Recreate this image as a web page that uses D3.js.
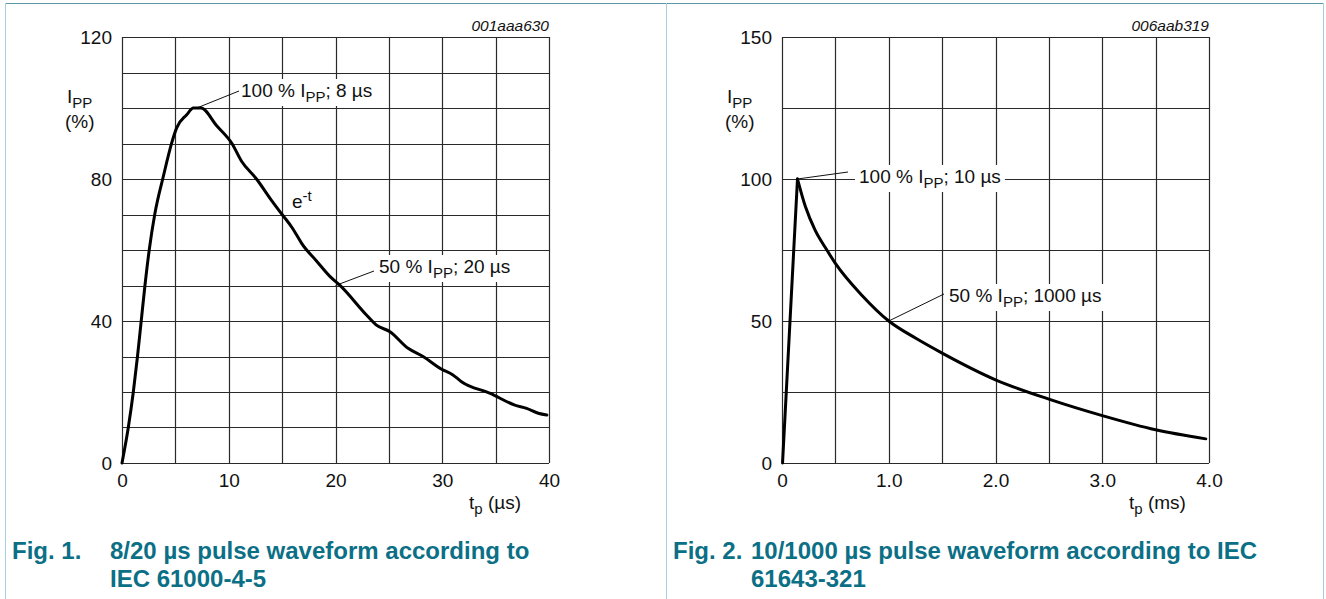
<!DOCTYPE html>
<html>
<head>
<meta charset="utf-8">
<script src="https://cdn.jsdelivr.net/npm/d3@7"></script>
<style>
body{margin:0;background:#fff;}
svg{display:block;font-family:"Liberation Sans",Arial,sans-serif;}
</style>
</head>
<body>
<script>
// 8/20 us waveform (t in us, I in %)
var waveA_t = [0,0.59,1.06,1.45,1.8,2.15,2.55,3.09,3.87,4.65,5.12,6.06,6.68,7.4,8.87,10.3,11.2,12.6,14.0,15.0,16.0,16.5,16.8,18.2,19.5,20.4,22.9,23.8,25.1,26.8,28.2,29.9,31.0,31.8,34.5,36.8,37.9,39.0,39.8];
var waveA_i = [0,10,20,30,40,50,60,70.4,80.7,90.1,94.4,98.1,100,100,95,90,85,80,74,70,66,63.5,62,57,52.5,50.1,41.7,38.9,37,32.3,30,26.5,24.8,22.9,19.6,16.3,15.4,14.0,13.5];
var gridA_x = [0,5,10,15,20,25,30,35,40];
var gridA_y = [0,10,20,30,40,50,60,70,80,90,100,110,120];
var ticksA_x = [0,10,20,30,40];
var ticksA_y = [0,40,80,120];

// 10/1000 us waveform (t in ms, I in %)
var waveB_t = [0.005,0.145,0.22,0.31,0.41,0.5,0.75,1.0,1.25,1.5,2.0,2.5,3.0,3.5,3.97];
var waveB_i = [0,100,90.2,82,75.6,70.3,59,50,44,38.7,29.3,22.5,16.7,11.7,8.5];
var gridB_x = [0,0.5,1,1.5,2,2.5,3,3.5,4];
var gridB_y = [0,25,50,75,100,125,150];
var ticksB_x = [0,1,2,3,4];
var ticksB_y = [0,50,100,150];

var W = 1326, H = 599;
var teal = "#0b6f86";
var fs = 19;

var svg = d3.select("body").append("svg")
  .attr("width", W)
  .attr("height", H);

// page frame
svg.append("line").attr("x1",5).attr("x2",1324).attr("y1",3.5).attr("y2",3.5)
  .attr("stroke","#5c97a6").attr("stroke-width",1);
[5.5,666.5,1323.5].forEach(function(x){
  svg.append("line").attr("x1",x).attr("x2",x).attr("y1",3).attr("y2",H)
    .attr("stroke","#a6cfd9").attr("stroke-width",1);
});

function subText(sel, parts){
  // parts: [text, "sub"|"sup"|"back"|null]
  parts.forEach(function(p){
    var t = sel.append("tspan").text(p[0]);
    if(p[1]=="sub") t.attr("dy",5).style("font-size","15px");
    if(p[1]=="sup") t.attr("dy",-7).style("font-size","15px");
    if(p[1]=="back") t.attr("dy",-5);
  });
}

function drawPanel(cfg){
  var g = svg.append("g");
  var x = d3.scaleLinear().domain(cfg.xDomain).range([cfg.left, cfg.right]);
  var y = d3.scaleLinear().domain(cfg.yDomain).range([463, 37]);

  g.selectAll(".gx").data(cfg.gridX).enter().append("line")
    .attr("x1",function(d){return Math.round(x(d))+0.5;})
    .attr("x2",function(d){return Math.round(x(d))+0.5;})
    .attr("y1",y.range()[0]).attr("y2",y.range()[1])
    .attr("stroke","#2a2a2a").attr("stroke-width",1.2);
  g.selectAll(".gy").data(cfg.gridY).enter().append("line")
    .attr("y1",function(d){return Math.round(y(d))+0.5;})
    .attr("y2",function(d){return Math.round(y(d))+0.5;})
    .attr("x1",x.range()[0]).attr("x2",x.range()[1])
    .attr("stroke","#2a2a2a").attr("stroke-width",1.2);

  var ax = g.append("g").attr("transform","translate(0,463)")
    .call(d3.axisBottom(x).tickValues(cfg.ticksX).tickSize(0).tickPadding(11)
      .tickFormat(cfg.xFormat));
  var ay = g.append("g").attr("transform","translate("+cfg.left+",0)")
    .call(d3.axisLeft(y).tickValues(cfg.ticksY).tickSize(0).tickPadding(10));
  [ax,ay].forEach(function(a){
    a.select(".domain").remove();
    a.selectAll("text").attr("font-size",fs).attr("font-family","Liberation Sans, Arial, sans-serif").attr("fill","#111");
  });

  // figure id
  g.append("text").attr("x",cfg.right).attr("y",31).attr("text-anchor","end")
    .attr("font-size",15.5).attr("font-style","italic").attr("fill","#111")
    .text(cfg.figId);

  // y title
  var yt = g.append("text").attr("x",cfg.yTitleX).attr("y",103).attr("font-size",fs).attr("fill","#111");
  subText(yt, [["I",null],["PP","sub"]]);
  g.append("text").attr("x",cfg.yTitleX-2).attr("y",128).attr("font-size",fs).attr("fill","#111").text("(%)");

  // x title
  var xt = g.append("text").attr("x",cfg.right-80).attr("y",509).attr("font-size",fs).attr("fill","#111");
  subText(xt, [["t",null],["p","sub"],[" "+cfg.xUnit,"back"]]);

  // annotations with white boxes
  cfg.notes.forEach(function(n){
    var t = g.append("text").attr("x",n.x).attr("y",n.y).attr("font-size",fs).attr("fill","#111");
    subText(t, n.parts);
    var bb = t.node().getBBox();
    g.insert("rect", function(){return t.node();})
      .attr("x",bb.x-4).attr("y",bb.y-1).attr("width",bb.width+8).attr("height",bb.height+2)
      .attr("fill","#fff");
    if(n.from){
      g.append("line")
        .attr("x1",x(n.from[0])).attr("y1",y(n.from[1]))
        .attr("x2",n.to[0]).attr("y2",n.to[1])
        .attr("stroke","#111").attr("stroke-width",1);
    }
  });

  var pts = cfg.t.map(function(d,i){return [d, cfg.v[i]];});
  var line = d3.line().x(function(d){return x(d[0]);}).y(function(d){return y(d[1]);});
  // rise and decay drawn as separate pieces so the peak corner stays sharp where it is sharp
  var pieces = cfg.split ? [[pts.slice(0,cfg.split+1), d3.curveLinear],[pts.slice(cfg.split), d3.curveMonotoneX]]
                         : [[pts, d3.curveMonotoneX]];
  pieces.forEach(function(p){
    g.append("path").datum(p[0])
      .attr("fill","none").attr("stroke","#000").attr("stroke-width",3)
      .attr("stroke-linejoin","round").attr("stroke-linecap","round")
      .attr("d", line.curve(p[1]));
  });

  // caption
  var cap = svg.append("text").attr("font-size",24).attr("font-weight","bold").attr("fill",teal);
  cap.append("tspan").attr("x",cfg.capX).attr("y",559).text(cfg.capFig);
  cfg.capLines.forEach(function(s,i){
    cap.append("tspan").attr("x",cfg.capX2).attr("y",559+28*i).text(s);
  });
}

drawPanel({
  left:122, right:549, xDomain:[0,40], yDomain:[0,120],
  gridX:gridA_x, gridY:gridA_y, ticksX:ticksA_x, ticksY:ticksA_y,
  xFormat:d3.format("d"), t:waveA_t, v:waveA_i,
  figId:"001aaa630", yTitleX:67, xUnit:"(µs)",
  notes:[
    {x:241, y:97, parts:[["100 % I",null],["PP","sub"],["; 8 µs","back"]], from:[7,100], to:[239,91]},
    {x:292, y:208, parts:[["e",null],["-t","sup"]]},
    {x:379, y:273, parts:[["50 % I",null],["PP","sub"],["; 20 µs","back"]], from:[20,50], to:[374,271]}
  ],
  capX:12, capX2:110, capFig:"Fig. 1.",
  capLines:["8/20 µs pulse waveform according to","IEC 61000-4-5"]
});

drawPanel({
  left:782, right:1209, xDomain:[0,4], yDomain:[0,150],
  gridX:gridB_x, gridY:gridB_y, ticksX:ticksB_x, ticksY:ticksB_y,
  xFormat:function(d){return d==0?"0":d3.format(".1f")(d);},
  t:waveB_t, v:waveB_i, split:1,
  figId:"006aab319", yTitleX:727, xUnit:"(ms)",
  notes:[
    {x:859, y:183, parts:[["100 % I",null],["PP","sub"],["; 10 µs","back"]], from:[0.145,100], to:[848,172]},
    {x:949, y:302, parts:[["50 % I",null],["PP","sub"],["; 1000 µs","back"]], from:[1.0,50], to:[944,294]}
  ],
  capX:673, capX2:751, capFig:"Fig. 2.",
  capLines:["10/1000 µs pulse waveform according to IEC","61643-321"]
});
</script>
</body>
</html>
